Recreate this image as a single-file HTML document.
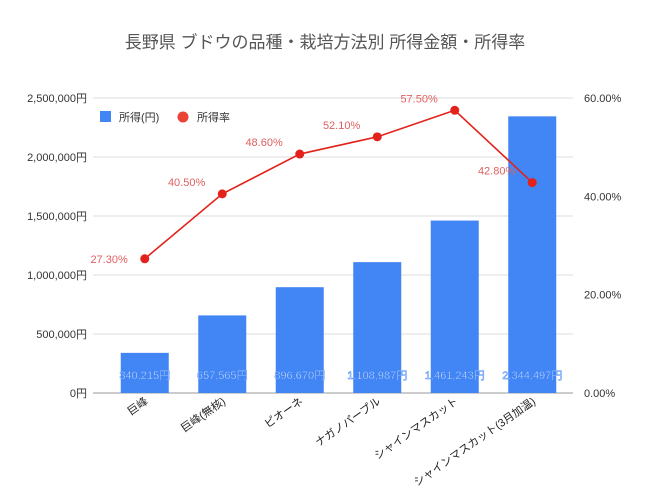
<!DOCTYPE html>
<html><head><meta charset="utf-8"><style>
body{margin:0;background:#fff;}
svg text{font-family:"Liberation Sans","Noto Sans CJK JP",sans-serif;}
</style></head><body>
<svg width="650" height="498" xmlns="http://www.w3.org/2000/svg">
<rect width="650" height="498" fill="#fff"/>
<text x="325" y="48" text-anchor="middle" font-size="17" fill="#555">長野県 ブドウの品種・栽培方法別 所得金額・所得率</text>
<g id="grid"></g><g id="bars"></g><g id="line"></g><g id="labels"></g>
<g>
<rect x="100" y="111" width="11" height="11" fill="#4285f4"/>
<text x="119" y="121" font-size="11" fill="#333">所得(円)</text>
<circle cx="183" cy="117" r="5.5" fill="#ea4335"/>
<text x="197" y="121" font-size="11" fill="#333">所得率</text>
</g>
</svg>
<script>
const categories=["巨峰","巨峰(無核)","ピオーネ","ナガノパープル","シャインマスカット","シャインマスカット(3月加温)"];
const incomes=[340215,657565,896670,1108987,1461243,2344497];
const rates=[27.3,40.5,48.6,52.1,57.5,42.8];
const leftTicks=[0,500000,1000000,1500000,2000000,2500000];
const rightTicks=[0,20,40,60];
const NS="http://www.w3.org/2000/svg";
const yBase=393,yTop=98,x0=106,cw=77.5,bw=48;
const yL=v=>yBase-(v/2500000)*(yBase-yTop);
const yR=v=>yBase-(v/60)*(yBase-yTop);
const xC=i=>x0+cw*(i+0.5);
function mk(tag,attrs,parent,txt){const e=document.createElementNS(NS,tag);for(const k in attrs)e.setAttribute(k,attrs[k]);if(txt!==undefined)e.textContent=txt;document.getElementById(parent).appendChild(e);return e;}
const fmt=v=>v.toLocaleString('en-US');
leftTicks.forEach(t=>{
 const l=mk('line',{x1:93,x2:573,y1:yL(t),y2:yL(t),stroke:t===0?'#999':'#ddd','stroke-width':1},'grid');
 
 
 const tx=mk('text',{x:87,y:yL(t)+4,'text-anchor':'end','font-size':11,fill:'#333'},'grid',fmt(t)+'円');
 
 
});
rightTicks.forEach(t=>{
 const tx=mk('text',{x:584,y:yR(t)+4,'font-size':11,fill:'#333'},'grid',t.toFixed(2)+'%');
 
 
});
incomes.forEach((v,i)=>{
 const r=mk('rect',{x:xC(i)-bw/2,y:yL(v),width:bw,height:yBase-yL(v),fill:'#4285f4'},'bars');
 
 
 const ly=Math.max((yL(v)+yBase)/2,yBase-18)+4;
 const t=mk('text',{x:xC(i),y:ly,'text-anchor':'middle','font-size':11,fill:'#fff',stroke:'#4285f4','stroke-width':0.5},'labels',fmt(v)+'円');
 
 
 const c=mk('text',{transform:`translate(${xC(i)+4},403) rotate(-35)`,'text-anchor':'end','font-size':11,fill:'#222'},'labels',categories[i]);
 
 
});
const pl=mk('polyline',{points:rates.map((r,i)=>xC(i)+','+yR(r)).join(' '),fill:'none',stroke:'#e3231b','stroke-width':1.6},'line');


rates.forEach((r,i)=>{
 const c=mk('circle',{cx:xC(i),cy:yR(r),r:4.5,fill:'#e3231b'},'line');
 
 
 const t=mk('text',{x:xC(i)-17,y:i===0?yR(r)+4:yR(r)-8,'text-anchor':'end','font-size':11,fill:'#e06060'},'labels',r.toFixed(2)+'%');
 
 
});
</script>
</body></html>
